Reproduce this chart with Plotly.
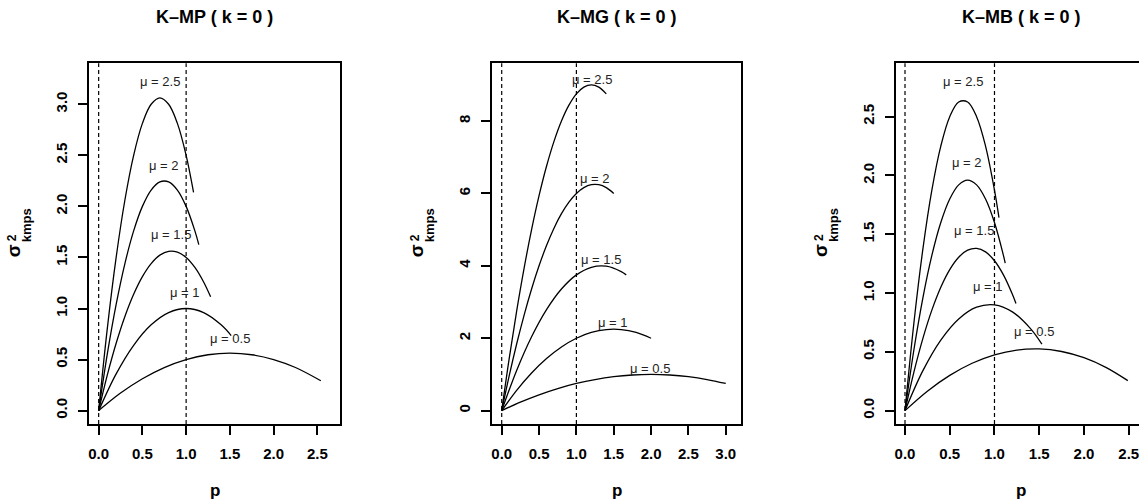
import plotly.graph_objects as go

# ---------------- data ----------------
mu_labels = ["μ = 0.5", "μ = 1", "μ = 1.5", "μ = 2", "μ = 2.5"]

# K-MP (k = 0)
mp_p = [
    [0, 0.25, 0.5, 0.75, 1.0, 1.25, 1.5, 1.75, 2.0, 2.25, 2.54],
    [0, 0.2, 0.4, 0.6, 0.8, 1.0, 1.2, 1.4, 1.515],
    [0, 0.1, 0.2, 0.3, 0.4, 0.5, 0.6, 0.7, 0.8, 0.9, 1.0, 1.1, 1.2, 1.28],
    [0, 0.1, 0.2, 0.3, 0.4, 0.5, 0.6, 0.7, 0.8, 0.9, 1.0, 1.1, 1.145],
    [0, 0.1, 0.2, 0.3, 0.4, 0.5, 0.6, 0.7, 0.8, 0.9, 1.0, 1.085],
]
mp_v = [
    [0, 0.172, 0.3125, 0.422, 0.5, 0.547, 0.5625, 0.547, 0.5, 0.422, 0.292],
    [0, 0.36, 0.64, 0.84, 0.96, 1.0, 0.96, 0.84, 0.735],
    [0, 0.3525, 0.66, 0.9225, 1.14, 1.3125, 1.44, 1.5225, 1.56, 1.5525, 1.5, 1.4025, 1.26, 1.114],
    [0, 0.56, 1.04, 1.44, 1.76, 2.0, 2.16, 2.24, 2.24, 2.16, 2.0, 1.76, 1.626],
    [0, 0.8125, 1.5, 2.0625, 2.5, 2.8125, 3.0, 3.0625, 3.0, 2.8125, 2.5, 2.136],
]
mp_label_p = [1.50, 0.99, 0.83, 0.75, 0.70]
mp_label_v = [0.708, 1.155, 1.72, 2.405, 3.22]

# K-MG (k = 0)
mg_p = [
    [0, 0.25, 0.5, 0.75, 1.0, 1.25, 1.5, 1.75, 2.0, 2.25, 2.5, 2.75, 3.0],
    [0, 0.2, 0.4, 0.6, 0.8, 1.0, 1.2, 1.4, 1.6, 1.8, 2.0],
    [0, 0.2, 0.4, 0.6, 0.8, 1.0, 1.2, 1.4, 1.6, 1.667],
    [0, 0.1, 0.2, 0.3, 0.4, 0.5, 0.6, 0.7, 0.8, 0.9, 1.0, 1.1, 1.2, 1.3, 1.4, 1.5],
    [0, 0.1, 0.2, 0.3, 0.4, 0.5, 0.6, 0.7, 0.8, 0.9, 1.0, 1.1, 1.2, 1.3, 1.4],
]
mg_v = [
    [0, 0.234, 0.4375, 0.609, 0.75, 0.859, 0.9375, 0.984, 1.0, 0.984, 0.9375, 0.859, 0.75],
    [0, 0.56, 1.04, 1.44, 1.76, 2.0, 2.16, 2.24, 2.24, 2.16, 2.0],
    [0, 1.11, 2.04, 2.79, 3.36, 3.75, 3.96, 3.99, 3.84, 3.75],
    [0, 0.96, 1.84, 2.64, 3.36, 4.0, 4.56, 5.04, 5.44, 5.76, 6.0, 6.16, 6.24, 6.24, 6.16, 6.0],
    [0, 1.4375, 2.75, 3.9375, 5.0, 5.9375, 6.75, 7.4375, 8.0, 8.4375, 8.75, 8.9375, 9.0, 8.9375, 8.75],
]
mg_label_p = [1.99, 1.495, 1.33, 1.245, 1.205]
mg_label_v = [1.17, 2.43, 4.18, 6.42, 9.15]

# K-MB (k = 0)
mb_p = [
    [0, 0.25, 0.5, 0.75, 1.0, 1.25, 1.5, 1.75, 2.0, 2.25, 2.49],
    [0, 0.2, 0.4, 0.6, 0.8, 1.0, 1.2, 1.4, 1.53],
    [0, 0.1, 0.2, 0.3, 0.4, 0.5, 0.6, 0.7, 0.8, 0.9, 1.0, 1.1, 1.2, 1.24],
    [0, 0.1, 0.2, 0.3, 0.4, 0.5, 0.6, 0.7, 0.8, 0.9, 1.0, 1.1, 1.12],
    [0, 0.1, 0.2, 0.3, 0.4, 0.5, 0.6, 0.7, 0.8, 0.9, 1.0, 1.05],
]
mb_v = [
    [0, 0.1656, 0.3, 0.4031, 0.475, 0.5156, 0.525, 0.5031, 0.45, 0.3656, 0.255],
    [0, 0.34, 0.6, 0.78, 0.88, 0.9, 0.84, 0.7, 0.566],
    [0, 0.33, 0.615, 0.855, 1.05, 1.2, 1.305, 1.365, 1.38, 1.35, 1.275, 1.155, 0.99, 0.911],
    [0, 0.52, 0.96, 1.32, 1.6, 1.8, 1.92, 1.96, 1.92, 1.8, 1.6, 1.32, 1.254],
    [0, 0.75, 1.375, 1.875, 2.25, 2.5, 2.625, 2.625, 2.5, 2.25, 1.875, 1.641],
]
mb_label_p = [1.445, 0.93, 0.775, 0.695, 0.652]
mb_label_v = [0.673, 1.057, 1.53, 2.11, 2.80]

titles = ["K\u2013MP ( k = 0 )", "K\u2013MG ( k = 0 )", "K\u2013MB ( k = 0 )"]
x_ticks = [[0, 0.5, 1.0, 1.5, 2.0, 2.5],
           [0, 0.5, 1.0, 1.5, 2.0, 2.5, 3.0],
           [0, 0.5, 1.0, 1.5, 2.0, 2.5]]
y_ticks = [[0, 0.5, 1.0, 1.5, 2.0, 2.5, 3.0],
           [0, 2, 4, 6, 8],
           [0, 0.5, 1.0, 1.5, 2.0, 2.5]]
y_tickfmt = [".1f", "d", ".1f"]
ref_lines = [0, 1]

# ---------------- layout geometry ----------------
W, H = 1139, 503
box_left = [89.3, 492.3, 896.0]
box_right = [340.0, 740.7, 1146.0]
box_top, box_bot = 63.3, 424.0
x_ranges = [[-0.107, 2.759], [-0.126, 3.2], [-0.1006, 2.615]]
y_ranges = [[-0.131, 3.401], [-0.369, 9.594], [-0.1136, 2.954]]

FONT = "Liberation Sans, Arial, Helvetica, sans-serif"
fig = go.Figure()

panels = [(mp_p, mp_v, mp_label_p, mp_label_v),
          (mg_p, mg_v, mg_label_p, mg_label_v),
          (mb_p, mb_v, mb_label_p, mb_label_v)]

for i, (P, V, LP, LV) in enumerate(panels):
    xa = "x" if i == 0 else f"x{i+1}"
    ya = "y" if i == 0 else f"y{i+1}"
    for j in range(len(P)):
        fig.add_trace(go.Scatter(x=P[j], y=V[j], mode="lines", xaxis=xa, yaxis=ya,
                                 line=dict(color="black", width=1.3, shape="spline", smoothing=1.0),
                                 showlegend=False, hoverinfo="skip"))
        fig.add_annotation(x=LP[j], y=LV[j], xref=xa, yref=ya, text=mu_labels[j],
                           showarrow=False, font=dict(family=FONT, size=13, color="#222"),
                           xanchor="center", yanchor="middle")
    for xv in ref_lines:
        fig.add_shape(type="line", x0=xv, x1=xv, y0=0, y1=1, xref=xa, yref=f"{ya} domain",
                      line=dict(color="black", width=1.2, dash="4px,3px"))

    d0 = box_left[i] / W
    d1 = min(box_right[i] / W, 1.0)
    key = "xaxis" if i == 0 else f"xaxis{i+1}"
    ykey = "yaxis" if i == 0 else f"yaxis{i+1}"
    fig.layout[key] = dict(domain=[d0, d1], anchor=ya, range=x_ranges[i],
                           showgrid=False, zeroline=False, showline=True, mirror=True,
                           linecolor="black", linewidth=2.2, ticks="outside", ticklen=9,
                           tickwidth=2, tickcolor="black", tickvals=x_ticks[i], tickformat=".1f",
                           tickfont=dict(family=FONT, size=15, color="black", weight="bold"),
                           ticklabelstandoff=6, ticklabeloverflow="allow")
    fig.layout[ykey] = dict(domain=[1 - box_bot / H, 1 - box_top / H], anchor=xa, range=y_ranges[i],
                            showgrid=False, zeroline=False, showline=True,
                            mirror=(True if i < 2 else False),
                            linecolor="black", linewidth=2.2, ticks="outside", ticklen=9,
                            tickwidth=2, tickcolor="black", tickvals=y_ticks[i],
                            tickformat=y_tickfmt[i], tickangle=-90,
                            tickfont=dict(family=FONT, size=15, color="black", weight="bold"),
                            ticklabelstandoff=5, ticklabeloverflow="allow")

    cx = (box_left[i] + box_right[i]) / 2 / W
    fig.add_annotation(x=cx, y=1 - 17 / H, xref="paper", yref="paper", text=f"<b>{titles[i]}</b>",
                       showarrow=False, font=dict(family=FONT, size=18, color="black"),
                       xanchor="center", yanchor="middle")
    fig.add_annotation(x=cx, y=1 - 490 / H, xref="paper", yref="paper", text="<b>p</b>",
                       showarrow=False, font=dict(family=FONT, size=17, color="black"),
                       xanchor="center", yanchor="middle")
    # y-axis label: sigma with stacked 2 / kmps
    bl = box_left[i]
    fig.add_annotation(x=(bl - 76) / W, y=1 - 251 / H, xref="paper", yref="paper", text="<b>σ</b>",
                       textangle=-90, showarrow=False, font=dict(family=FONT, size=19, color="black"),
                       xanchor="center", yanchor="middle")
    fig.add_annotation(x=(bl - 77) / W, y=1 - 238 / H, xref="paper", yref="paper", text="<b>2</b>",
                       textangle=-90, showarrow=False, font=dict(family=FONT, size=12, color="black"),
                       xanchor="center", yanchor="middle")
    fig.add_annotation(x=(bl - 63) / W, y=1 - 225 / H, xref="paper", yref="paper", text="<b>kmps</b>",
                       textangle=-90, showarrow=False, font=dict(family=FONT, size=13, color="black"),
                       xanchor="center", yanchor="middle")

fig.update_layout(width=W, height=H, margin=dict(l=0, r=0, t=0, b=0),
                  paper_bgcolor="white", plot_bgcolor="white", showlegend=False)

fig.write_html("out.html", config={"displayModeBar": False, "staticPlot": True},
               post_script="document.body.style.margin='0';document.body.style.padding='0';"
                           "document.body.style.overflow='hidden';")
